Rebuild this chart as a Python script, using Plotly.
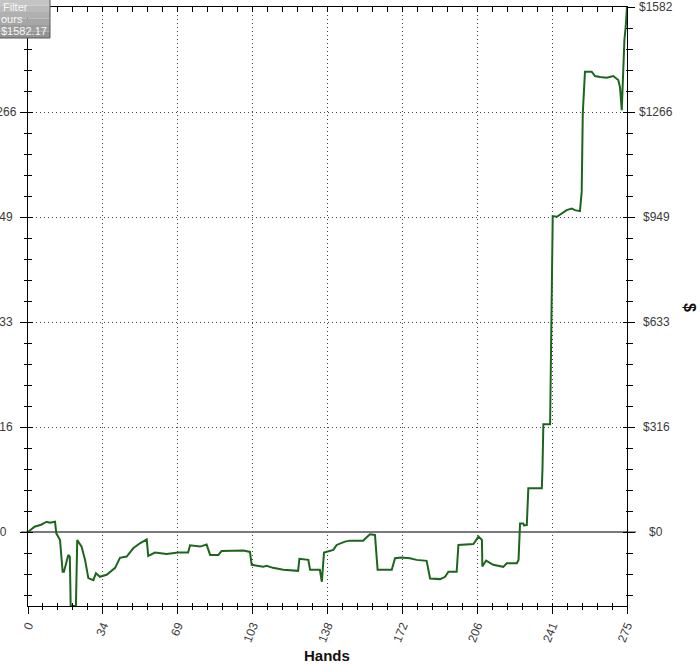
import plotly.graph_objects as go

# ---- data ----
hands = [0, 3, 6, 8.6, 10, 12.4, 13, 14.7, 15.9, 16.5, 18.5, 19.2, 19.6, 22, 22.6, 24.6, 26.2,
         27.7, 30, 31.2, 33, 36.1, 40, 42.2, 45.3, 48.3, 51.4, 54.5, 55.2, 58.3, 63.6, 69, 73.5,
         74.4, 79, 82, 83.6, 87.4, 88.9, 98.9, 101.9, 102.7, 108, 109.5, 112.5, 117.2, 124, 124.6,
         128.7, 129.5, 134, 134.9, 135.9, 140.2, 141.7, 145.5, 147.8, 153.9, 155.5, 157, 159.3,
         160.5, 167, 168.5, 171.5, 175.3, 178.4, 183, 184.6, 189.2, 191.5, 193, 196.8, 197.6,
         204.5, 206.8, 208.4, 208.6, 210.3, 213.6, 218.2, 219.8, 224.4, 225.2, 225.9, 227.4,
         227.7, 229, 229.7, 235.9, 236.2, 236.6, 239.7, 240, 240.4, 240.7, 240.9, 242.8, 245,
         247.3, 249.6, 251.1, 253.4, 254.2, 254.7, 255.7, 258.8, 260.3, 262.6, 265.7, 268.7,
         271, 271.8, 272.6, 273, 273.3, 273.8, 274.4, 275]
winnings = [0, 16, 22, 31, 28, 31, -4, -24, -120, -120, -69, -75, -223, -223, -24, -44, -84,
            -139, -145, -124, -135, -129, -108, -78, -74, -49, -34, -22, -72, -62, -66, -62, -62,
            -40, -44, -38, -69, -69, -57, -56, -60, -99, -105, -102, -108, -114, -117, -81,
            -84, -114, -114, -150, -62, -54, -39, -29, -26, -26, -16, -7, -9,
            -114, -114, -79, -77, -79, -84, -87, -140, -142, -135, -120, -120, -39,
            -36, -14, -24, -104, -86, -99, -105, -94, -94, -84, 26, 26,
            20, 21, 132, 132, 192, 325, 325, 533, 749, 880, 952, 950, 960,
            970, 975, 970, 967, 1025, 1261, 1387, 1387, 1374, 1371, 1369, 1374,
            1362, 1340, 1271, 1342, 1402, 1482, 1522, 1582.17]

x_ticks = [0, 34.375, 68.75, 103.125, 137.5, 171.875, 206.25, 240.625, 275]
x_labels = ["0", "34", "69", "103", "138", "172", "206", "241", "275"]
y_ticks = [0, 316.434, 632.868, 949.302, 1265.736, 1582.17]
y_labels = ["$0", "$316", "$633", "$949", "$1266", "$1582"]
legend_lines = ["Filter", "ours", "$1582.17"]

X_RANGE = [0, 275]
Y_RANGE = [-223, 1582.17]

W, H = 700, 664
L, R, T, B = 28, 73, 7, 58
pw, ph = W - L - R, H - T - B


def px_x(p):
    return (p - L) / pw


def px_y(p):
    return (H - B - p) / ph


fig = go.Figure()
fig.add_trace(go.Scatter(x=hands, y=winnings, mode="lines",
                         line=dict(color="#1d651d", width=2), hoverinfo="skip",
                         showlegend=False))
# empty traces so that the overlaying tick axes get drawn
for xa, ya in [("x2", "y"), ("x3", "y"), ("x", "y2"), ("x", "y3"), ("x", "y4")]:
    fig.add_trace(go.Scatter(x=[None], y=[None], xaxis=xa, yaxis=ya, mode="lines",
                             hoverinfo="skip", showlegend=False))

FAM = "Liberation Sans, Arial, sans-serif"
font_tick = dict(family=FAM, size=12, color="#3a3a3a")
DOT = "1px,3px"
minor_x = 275 / 40
minor_y = 1582.17 / 25

common_x = dict(range=X_RANGE, automargin=False, showline=True, linecolor="black", linewidth=1,
                tickvals=x_ticks)
common_y = dict(range=Y_RANGE, automargin=False, showline=True, linecolor="black", linewidth=1,
                tickvals=y_ticks)

fig.update_layout(
    width=W, height=H,
    margin=dict(l=L, r=R, t=T, b=B, pad=0),
    paper_bgcolor="white", plot_bgcolor="white",
    showlegend=False,
    xaxis=dict(**common_x, side="bottom", ticktext=x_labels, ticks="outside", ticklen=7,
               tickcolor="black", tickangle=-68, tickfont=font_tick,
               showgrid=True, gridcolor="#444", griddash=DOT, gridwidth=1, zeroline=False,
               minor=dict(dtick=minor_x, tick0=0, ticks="outside", ticklen=3,
                          tickcolor="black", showgrid=False)),
    xaxis2=dict(**common_x, overlaying="x", anchor="y", side="bottom", showticklabels=False,
                ticks="inside", ticklen=3, tickcolor="black", showgrid=False, zeroline=False,
                minor=dict(dtick=minor_x, tick0=0, ticks="inside", ticklen=3,
                           tickcolor="black", showgrid=False)),
    xaxis3=dict(**common_x, overlaying="x", anchor="y", side="top", showticklabels=False,
                ticks="inside", ticklen=5, tickcolor="black", showgrid=False, zeroline=False,
                minor=dict(dtick=minor_x, tick0=0, ticks="inside", ticklen=5,
                           tickcolor="black", showgrid=False)),
    yaxis=dict(**common_y, side="left", showticklabels=False, ticks="outside", ticklen=7,
               tickcolor="black",
               showgrid=True, gridcolor="#444", griddash=DOT, gridwidth=1,
               zeroline=True, zerolinecolor="#7a7a7a", zerolinewidth=1.5,
               minor=dict(dtick=minor_y, tick0=0, ticks="outside", ticklen=3,
                          tickcolor="black", showgrid=False)),
    yaxis2=dict(**common_y, overlaying="y", anchor="x", side="right", showticklabels=False,
                ticks="outside", ticklen=7, tickcolor="black",
                showgrid=False, zeroline=False,
                minor=dict(dtick=minor_y, tick0=0, ticks="outside", ticklen=5,
                           tickcolor="black", showgrid=False)),
    yaxis3=dict(**common_y, overlaying="y", anchor="x", side="left", showticklabels=False,
                ticks="inside", ticklen=5, tickcolor="black", showgrid=False, zeroline=False,
                minor=dict(dtick=minor_y, tick0=0, ticks="inside", ticklen=4,
                           tickcolor="black", showgrid=False)),
    yaxis4=dict(**common_y, overlaying="y", anchor="x", side="right", showticklabels=False,
                ticks="inside", ticklen=4, tickcolor="black", showgrid=False, zeroline=False,
                minor=dict(dtick=minor_y, tick0=0, ticks="inside", ticklen=1,
                           tickcolor="black", showgrid=False)),
)

# y tick labels: centred on both sides (left ones are cut by the image edge;
# the top-left one is hidden behind the summary box)
for i, (v, lab) in enumerate(zip(y_ticks, y_labels)):
    for cx in (-0.5, 656):
        if cx < 0 and i == len(y_ticks) - 1:
            continue
        fig.add_annotation(text=lab, xref="paper", yref="y", x=px_x(cx), y=v,
                           xanchor="center", yanchor="middle", showarrow=False,
                           font=font_tick, borderpad=0)

# zero line extension across the tick area on both sides
fig.add_shape(type="line", xref="paper", yref="y", x0=px_x(21), x1=px_x(636), y0=0, y1=0,
              line=dict(color="#7a7a7a", width=1.5), layer="below")

# cropped summary box at the top-left (vertical gray gradient)
box_cols = ["#c4c4c4", "#bababa", "#b0b0b0", "#a6a6a6", "#9c9c9c", "#929292"]
band = 39 / len(box_cols)
for i, c in enumerate(box_cols):
    fig.add_shape(type="rect", xref="paper", yref="paper", x0=px_x(-20), x1=px_x(50),
                  y0=px_y(-1 + band * (i + 1)), y1=px_y(-1 + band * i), fillcolor=c,
                  line=dict(width=0), layer="above")
fig.add_shape(type="rect", xref="paper", yref="paper", x0=px_x(-20), x1=px_x(50),
              y0=px_y(38), y1=px_y(-10), fillcolor="rgba(0,0,0,0)",
              line=dict(color="#5a5a5a", width=1), layer="above")
box_font = dict(family=FAM, size=11, color="#f8f8f8")
fig.add_annotation(text=legend_lines[0], xref="paper", yref="paper", x=px_x(1.5), y=px_y(7),
                   xanchor="left", yanchor="middle", showarrow=False, font=box_font,
                   borderpad=0)
fig.add_annotation(text=legend_lines[1], xref="paper", yref="paper", x=px_x(0), y=px_y(19),
                   xanchor="left", yanchor="middle", showarrow=False, font=box_font,
                   borderpad=0)
fig.add_annotation(text=legend_lines[2], xref="paper", yref="paper", x=px_x(48), y=px_y(31),
                   xanchor="right", yanchor="middle", showarrow=False, font=box_font,
                   borderpad=0)

# axis titles
fig.add_annotation(text="<b>Hands</b>", xref="paper", yref="paper", x=px_x(327), y=px_y(655),
                   xanchor="center", yanchor="middle", showarrow=False,
                   font=dict(family=FAM, size=15, color="#111"))
fig.add_annotation(text="<b>$</b>", xref="paper", yref="paper", x=px_x(690), y=px_y(307),
                   xanchor="center", yanchor="middle", showarrow=False, textangle=90,
                   font=dict(family=FAM, size=16, color="#111"))

fig.write_html("out.html", config={"displayModeBar": False},
               post_script="document.body.style.margin='0';")
